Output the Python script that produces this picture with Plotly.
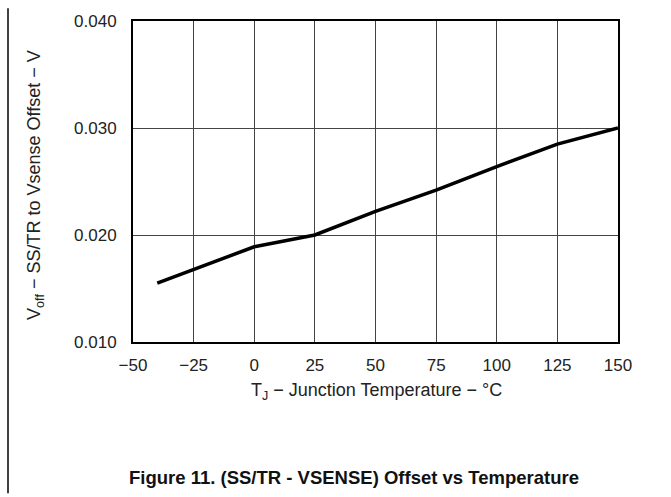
import plotly.graph_objects as go

temps = [-40, -25, 0, 25, 50, 75, 100, 125, 150]
offset_v = [0.0155, 0.0168, 0.0189, 0.0200, 0.0222, 0.0242, 0.0264, 0.0285, 0.0300]

x_ticks = [-50, -25, 0, 25, 50, 75, 100, 125, 150]
x_tick_labels = ["\u221250", "\u221225", "0", "25", "50", "75", "100", "125", "150"]
y_ticks = [0.010, 0.020, 0.030, 0.040]
y_tick_labels = ["0.010", "0.020", "0.030", "0.040"]

FONT = "Liberation Sans, Arial, sans-serif"

fig = go.Figure()
fig.add_trace(go.Scatter(x=temps, y=offset_v, mode="lines",
                         line=dict(color="black", width=3.5), showlegend=False,
                         cliponaxis=False))

L, R, T, B = 133, 53, 13, 155
W, H = 671, 497
pw = W - L - R
ph = H - T - B

fig.update_layout(
    width=W, height=H,
    margin=dict(l=L, r=R, t=T, b=B),
    paper_bgcolor="white", plot_bgcolor="white",
    font=dict(family=FONT, color="#222", size=17),
    xaxis=dict(range=[-50, 150], tickvals=x_ticks, ticktext=x_tick_labels,
               showgrid=True, gridcolor="#444", gridwidth=1,
               showline=True, linecolor="black", linewidth=2, mirror=True,
               ticks="", zeroline=False, tickfont=dict(size=17),
               ticklabelstandoff=7),
    yaxis=dict(range=[0.010, 0.040], tickvals=y_ticks, ticktext=y_tick_labels,
               showgrid=True, gridcolor="#444", gridwidth=1,
               showline=True, linecolor="black", linewidth=2, mirror=True,
               ticks="", zeroline=False, tickfont=dict(size=17),
               ticklabelstandoff=11),
)

# axis titles
fig.add_annotation(text="T<sub>J</sub> \u2212 Junction Temperature \u2212 \u00b0C",
                   xref="paper", yref="paper",
                   x=(376 - L) / pw, y=-(393 - (T + ph)) / ph,
                   showarrow=False, font=dict(size=18, family=FONT, color="#222"),
                   xanchor="center", yanchor="middle")
fig.add_annotation(text="V<sub>off</sub> \u2212 SS/TR to Vsense Offset \u2212 V",
                   xref="paper", yref="paper",
                   x=(36 - L) / pw, y=(T + ph - 181) / ph,
                   textangle=-90,
                   showarrow=False, font=dict(size=18, family=FONT, color="#222"),
                   xanchor="center", yanchor="middle")
# caption
fig.add_annotation(text="<b>Figure 11. (SS/TR - VSENSE) Offset vs Temperature</b>",
                   xref="paper", yref="paper",
                   x=(354 - L) / pw, y=-(481 - (T + ph)) / ph,
                   showarrow=False, font=dict(size=18.5, family=FONT, color="#111"),
                   xanchor="center", yanchor="middle")
# left page border line
fig.add_shape(type="line", xref="paper", yref="paper",
              x0=(8 - L) / pw, x1=(8 - L) / pw,
              y0=-(H - (T + ph)) / ph, y1=1 + T / ph,
              line=dict(color="black", width=1.5))

fig.write_html("out.html", config={"displayModeBar": False},
               post_script="document.body.style.margin='0';document.body.style.padding='0';document.body.style.overflow='hidden';")
